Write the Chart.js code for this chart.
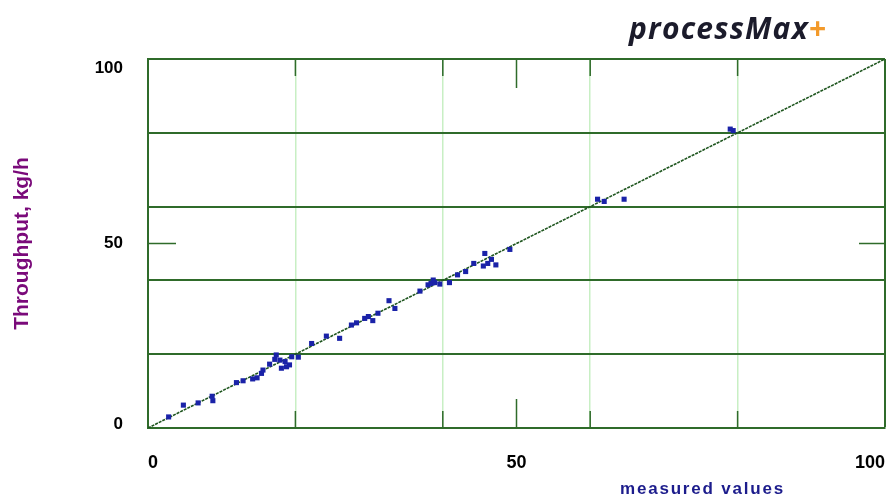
<!DOCTYPE html>
<html>
<head>
<meta charset="utf-8">
<script src="https://cdn.jsdelivr.net/npm/chart.js@4"></script>
<style>
  html, body { margin: 0; padding: 0; background: #fff; }
  #wrap { position: relative; width: 889px; height: 499px; }
  #brand { position: absolute; left: 629px; top: 7px; font-family: "Open Sans", sans-serif; font-weight: bold; font-style: italic; font-size: 30px; letter-spacing: 1.2px; color: #1b1b2b; }
  #brand span { color: #f39a2a; }
  #xtitle { position: absolute; left: 620px; top: 479px; font-family: "Liberation Sans", sans-serif; font-weight: bold; font-size: 17px; letter-spacing: 1.8px; color: #1c1c8c; }
</style>
</head>
<body>
<div id="wrap">
  <canvas id="fitChart" width="889" height="499"></canvas>
  <div id="brand">processMax<span>+</span></div>
  <div id="xtitle">measured values</div>
</div>
<script>
var measured = [2.8, 4.8, 6.8, 8.7, 8.8, 12.0, 12.9, 14.2, 14.8, 15.4, 15.6, 16.5, 17.4, 17.9, 18.6, 19.2, 18.1, 19.5, 17.2, 18.8,
    20.4, 22.2, 24.2, 26.0, 27.6, 28.3, 29.4, 29.9, 30.5, 31.2, 32.7, 33.5, 36.9, 38.0, 38.4, 38.9, 39.6, 38.7, 40.9,
    42.0, 43.1, 44.2, 45.5, 45.7, 46.1, 47.2, 46.6, 49.1, 61.0, 61.9, 64.6, 79.4, 79.0];
var throughput = [3.0, 6.2, 6.8, 8.6, 7.4, 12.3, 12.8, 13.3, 13.6, 14.8, 15.7, 17.3, 19.8, 18.4, 18.0, 17.1, 16.2, 19.3, 18.6, 16.6,
    19.2, 22.9, 24.9, 24.3, 27.9, 28.5, 29.7, 30.2, 29.1, 31.1, 34.5, 32.4, 37.1, 38.8, 39.2, 39.4, 39.0, 40.1, 39.4,
    41.5, 42.4, 44.6, 43.9, 47.3, 44.6, 44.2, 45.7, 48.4, 62.0, 61.4, 62.0, 80.6, 81.0];
var idealLine = [0, 100];
var labelTicks = [0, 50, 100];

var darkGreen = '#2f6b2a';
var lightGreen = '#c8efc4';

var points = measured.map(function(v, i) { return { x: v, y: throughput[i] }; });
var diagonal = idealLine.map(function(v) { return { x: v, y: v }; });

// short tick marks drawn inside the plot frame
var innerTicks = {
    id: 'innerTicks',
    afterDatasetsDraw: function(chart) {
        var ctx = chart.ctx, a = chart.chartArea;
        var xs = chart.scales.x, ys = chart.scales.y;
        ctx.save();
        ctx.strokeStyle = darkGreen;
        ctx.lineWidth = 1.5;
        [[20, 17], [40, 17], [50, 29], [60, 17], [80, 17]].forEach(function(t) {
            var px = xs.getPixelForValue(t[0]);
            ctx.beginPath();
            ctx.moveTo(px, a.bottom); ctx.lineTo(px, a.bottom - t[1]);
            ctx.moveTo(px, a.top); ctx.lineTo(px, a.top + t[1]);
            ctx.stroke();
        });
        var py = ys.getPixelForValue(50);
        ctx.beginPath();
        ctx.moveTo(a.left, py); ctx.lineTo(a.left + 28, py);
        ctx.moveTo(a.right, py); ctx.lineTo(a.right - 26, py);
        ctx.stroke();
        ctx.restore();
    }
};

var fitChart = new Chart(document.getElementById('fitChart'), {
    type: 'scatter',
    data: {
        datasets: [{
            label: 'Throughput',
            data: points,
            pointStyle: 'rect',
            pointRadius: 3.6,
            backgroundColor: '#1a22a8',
            borderColor: '#1a22a8',
            borderWidth: 0
        },
        {
            label: 'Ideal',
            type: 'line',
            data: diagonal,
            borderColor: '#1f561f',
            borderWidth: 1.6,
            borderDash: [3, 1],
            pointRadius: 0,
            fill: false
        }]
    },
    options: {
        responsive: false,
        animation: false,
        layout: { padding: { top: 59, right: 3, left: 0, bottom: 0 } },
        plugins: { legend: { display: false }, tooltip: { enabled: false } },
        scales: {
            x: {
                type: 'linear',
                min: 0, max: 100,
                afterFit: function(s) { s.height = 71; s.paddingLeft = 0; s.paddingRight = 0; },
                border: { color: darkGreen, width: 2 },
                grid: {
                    drawTicks: false,
                    lineWidth: function(c) { return c.tick.value === 100 ? 2 : 1.5; },
                    color: function(c) {
                        var v = c.tick.value;
                        if (v === 100) return darkGreen;
                        return (v % 20 === 0 && v !== 0) ? lightGreen : 'rgba(0,0,0,0)';
                    }
                },
                ticks: {
                    stepSize: 10,
                    autoSkip: false,
                    maxRotation: 0,
                    align: 'inner',
                    padding: 24,
                    color: '#000',
                    font: { family: 'Liberation Sans', weight: 'bold', size: 18 },
                    callback: function(v) { return labelTicks.indexOf(v) >= 0 ? String(v) : ''; }
                }
            },
            y: {
                type: 'linear',
                min: 0, max: 100,
                afterFit: function(s) { s.width = 148; s.paddingTop = 0; s.paddingBottom = 0; },
                border: { color: darkGreen, width: 2 },
                grid: {
                    drawTicks: false,
                    lineWidth: 2,
                    color: function(c) {
                        var v = c.tick.value;
                        return (v % 20 === 0 && v !== 0) ? darkGreen : 'rgba(0,0,0,0)';
                    }
                },
                ticks: {
                    stepSize: 10,
                    autoSkip: false,
                    padding: 25,
                    color: '#000',
                    // end labels sit inside the frame like the original
                    font: function(c) {
                        var v = c.tick ? c.tick.value : 0;
                        var lh = v === 100 ? '19px' : (v === 0 ? '8px' : '20px');
                        return { family: 'Liberation Sans', weight: 'bold', size: 17, lineHeight: lh };
                    },
                    callback: function(v) {
                        if (v === 100) return ['', '100'];
                        if (v === 0) return ['0', ''];
                        return v === 50 ? ['50'] : '';
                    }
                },
                title: {
                    display: true,
                    text: 'Throughput, kg/h',
                    color: '#7a0a7a',
                    padding: { top: 10, bottom: 0 },
                    font: { family: 'Liberation Sans', weight: 'bold', size: 21 }
                }
            }
        }
    },
    plugins: [innerTicks]
});
</script>
</body>
</html>
